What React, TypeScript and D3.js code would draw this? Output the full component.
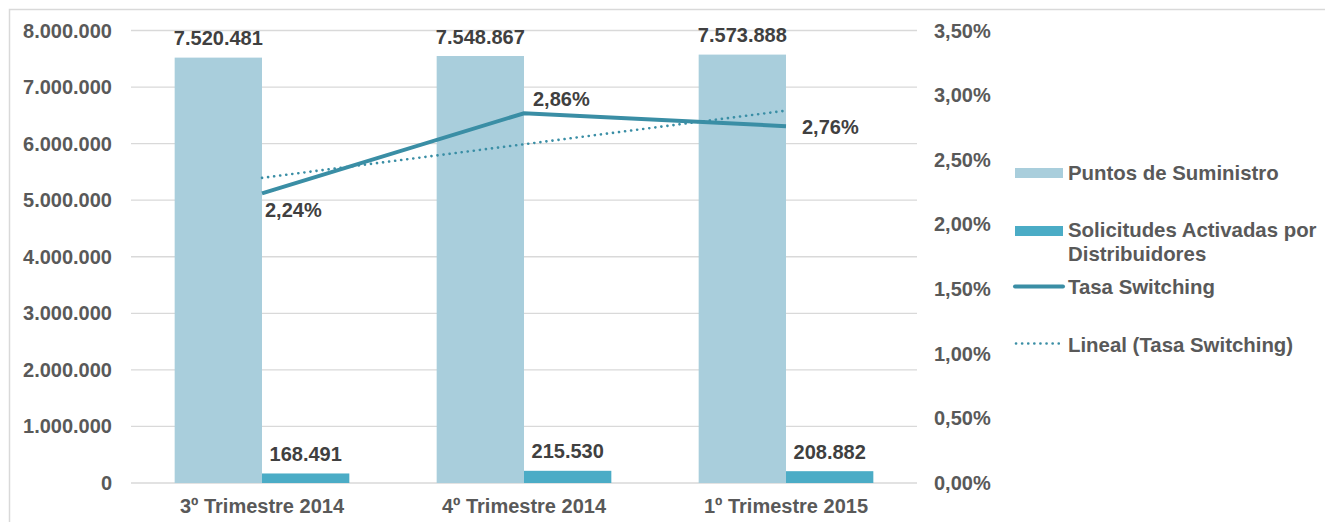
import React from "react";
import * as d3 from "d3";

const categories = ["3º Trimestre 2014", "4º Trimestre 2014", "1º Trimestre 2015"];
const puntosSuministro = [7520481, 7548867, 7573888];
const solicitudesActivadas = [168491, 215530, 208882];
const tasaSwitching = [2.24, 2.86, 2.76];
const leftTicks = [0, 1000000, 2000000, 3000000, 4000000, 5000000, 6000000, 7000000, 8000000];
const rightTicks = [0, 0.5, 1, 1.5, 2, 2.5, 3, 3.5];

const es = d3.formatLocale({
  decimal: ",",
  thousands: ".",
  grouping: [3],
  currency: ["", "€"],
});
const fmtInt = es.format(",.0f");
const fmtPct = (v: number) => es.format(".2f")(v) + "%";

const width = 1325;
const height = 522;
const font = "'Liberation Sans', Arial, sans-serif";
const tickColor = "#595959";
const labelColor = "#404040";
const gridColor = "#d9d9d9";
const colLight = "#a9cedc";
const colDark = "#4bacc6";
const colLine = "#3a8ea5";

const App = () => {
  const x = d3.scaleBand().domain(categories).range([131, 917]);
  const series = ["puntos", "solicitudes"];
  const xSub = d3
    .scaleBand()
    .domain(series)
    .range([0, x.bandwidth()])
    .paddingOuter(0.5);
  const y = d3.scaleLinear().domain([0, 8000000]).range([483, 30.5]);
  const yR = d3.scaleLinear().domain([0, 3.5]).range([483, 30.5]);
  const cx = (c: string) => (x(c) as number) + x.bandwidth() / 2;

  const line = d3
    .line<number>()
    .x((_, i) => cx(categories[i]))
    .y((d) => yR(d));

  // linear trend (least squares), like the Excel trendline
  const idx = tasaSwitching.map((_, i) => i);
  const mx = d3.mean(idx) as number;
  const my = d3.mean(tasaSwitching) as number;
  const slope =
    (d3.sum(idx, (i) => (i - mx) * (tasaSwitching[i] - my)) as number) /
    (d3.sum(idx, (i) => (i - mx) * (i - mx)) as number);
  const trend = idx.map((i) => my + slope * (i - mx));

  // label offsets for the rate values
  const rateLabels = [
    { dx: 3, dy: 24 },
    { dx: 9, dy: -7 },
    { dx: 16, dy: 8 },
  ];

  const bars = [
    { key: "puntos", values: puntosSuministro, color: colLight },
    { key: "solicitudes", values: solicitudesActivadas, color: colDark },
  ];

  return (
    <svg
      width={width}
      height={height}
      style={{ position: "absolute", left: 0, top: 0, fontFamily: font, fontWeight: "bold" }}
    >
      <rect x={0} y={0} width={width} height={height} fill="white" />
      <rect x={9.5} y={9.5} width={width + 10} height={height + 10} fill="none" stroke={gridColor} strokeWidth={1.5} />

      {/* grid */}
      <g>
        {leftTicks.map((t) => (
          <line key={t} x1={131} x2={917} y1={y(t)} y2={y(t)} stroke={gridColor} strokeWidth={1.3} />
        ))}
      </g>

      {/* left axis */}
      <g fontSize={20} fill={tickColor} textAnchor="end">
        {leftTicks.map((t) => (
          <text key={t} x={112} y={y(t) + 7}>
            {fmtInt(t)}
          </text>
        ))}
      </g>

      {/* right axis */}
      <g fontSize={20} fill={tickColor} textAnchor="start">
        {rightTicks.map((t) => (
          <text key={t} x={934} y={yR(t) + 7}>
            {fmtPct(t)}
          </text>
        ))}
      </g>

      {/* x axis labels */}
      <g fontSize={20} fill={tickColor} textAnchor="middle">
        {categories.map((c) => (
          <text key={c} x={cx(c)} y={513}>
            {c}
          </text>
        ))}
      </g>

      {/* bars */}
      {bars.map((s) => (
        <g key={s.key} fill={s.color}>
          {s.values.map((v, i) => {
            const bx = (x(categories[i]) as number) + (xSub(s.key) as number);
            return <rect key={i} x={bx} y={y(v)} width={xSub.bandwidth()} height={y(0) - y(v)} />;
          })}
        </g>
      ))}

      {/* bar labels */}
      {bars.map((s) => (
        <g key={s.key + "l"} fontSize={20} fill={labelColor} textAnchor="middle">
          {s.values.map((v, i) => {
            const bx = (x(categories[i]) as number) + (xSub(s.key) as number) + xSub.bandwidth() / 2;
            return (
              <text key={i} x={bx} y={y(v) - 12.5}>
                {fmtInt(v)}
              </text>
            );
          })}
        </g>
      ))}

      {/* trend line */}
      <path d={line(trend) as string} fill="none" stroke={colLine} strokeWidth={2.6} strokeDasharray="0.1 6" strokeLinecap="round" />

      {/* rate line */}
      <path d={line(tasaSwitching) as string} fill="none" stroke={colLine} strokeWidth={4} />

      <g fontSize={20} fill={labelColor}>
        {tasaSwitching.map((v, i) => (
          <text key={i} x={cx(categories[i]) + rateLabels[i].dx} y={yR(v) + rateLabels[i].dy}>
            {fmtPct(v)}
          </text>
        ))}
      </g>

      {/* legend */}
      <g fontSize={20.4} fill={tickColor}>
        <rect x={1015} y={168} width={48} height={10} fill={colLight} />
        <text x={1068} y={180}>Puntos de Suministro</text>
        <rect x={1015} y={226} width={48} height={10} fill={colDark} />
        <text x={1068} y={237}>Solicitudes Activadas por</text>
        <text x={1068} y={260.5}>Distribuidores</text>
        <line x1={1015} x2={1063} y1={286.5} y2={286.5} stroke={colLine} strokeWidth={4} strokeLinecap="round" />
        <text x={1068} y={294}>Tasa Switching</text>
        <line x1={1016} x2={1060} y1={343.5} y2={343.5} stroke={colLine} strokeWidth={2.6} strokeDasharray="0.1 6" strokeLinecap="round" />
        <text x={1068} y={351.5}>Lineal (Tasa Switching)</text>
      </g>
    </svg>
  );
};

export default App;
